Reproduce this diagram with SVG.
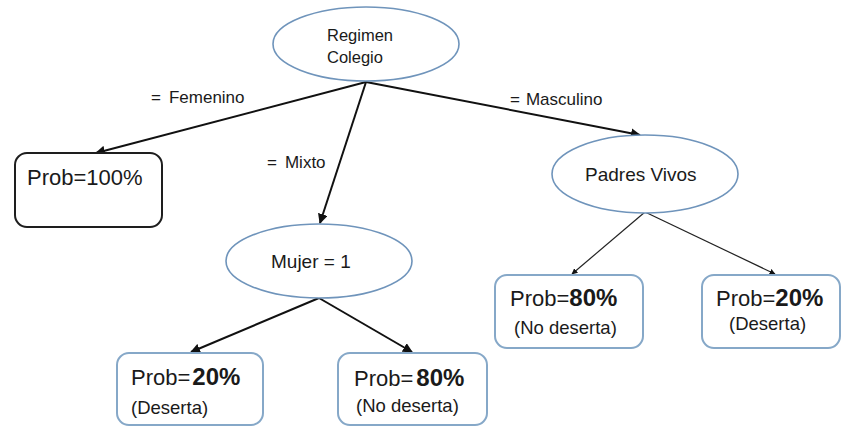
<svg xmlns="http://www.w3.org/2000/svg" width="842" height="427" viewBox="0 0 842 427">
  <style>
    .ell { fill: #ffffff; stroke: #6f94bb; stroke-width: 1.6; }
    .leaf { fill: #ffffff; stroke: #86a8c8; stroke-width: 2; }
    .leafdark { fill: #ffffff; stroke: #1e1e1e; stroke-width: 2; }
    .edge { stroke: #111111; stroke-width: 2; fill: none; marker-end: url(#arrow); }
    .edge-thin { stroke: #222222; stroke-width: 1.2; fill: none; marker-end: url(#arrow); }
    text { font-family: "Liberation Sans", Arial, sans-serif; fill: #1a1a1a; }
    .lbl { font-size: 17px; }
    .node { font-size: 16.5px; }
    .node-lg { font-size: 19px; }
    .prob { font-size: 22px; }
    .pct { font-size: 24px; font-weight: bold; }
    .sub { font-size: 18.5px; }
  </style>
  <defs>
    <marker id="arrow" viewBox="0 0 10 10" refX="9" refY="5" markerWidth="5" markerHeight="5" orient="auto" markerUnits="strokeWidth">
      <path d="M0,0 L10,5 L0,10 z" fill="#111111"/>
    </marker>
  </defs>

  <g id="connectors">
    <line class="edge" x1="366" y1="82" x2="96" y2="153"/>
    <line class="edge" x1="366" y1="82" x2="320" y2="223"/>
    <line class="edge" x1="366" y1="82" x2="640" y2="135"/>
    <line class="edge" x1="319" y1="298" x2="191" y2="352"/>
    <line class="edge" x1="319" y1="298" x2="412" y2="352"/>
    <line class="edge-thin" x1="645" y1="212" x2="572" y2="274"/>
    <line class="edge-thin" x1="645" y1="212" x2="775" y2="274"/>
    <text class="lbl" x="151" y="103">=<tspan dx="8">Femenino</tspan></text>
    <text class="lbl" x="267" y="168">=<tspan dx="8">Mixto</tspan></text>
    <text class="lbl" x="510" y="105">=<tspan dx="6">Masculino</tspan></text>
  </g>

  <g id="regimen-colegio">
    <ellipse class="ell" cx="366" cy="44" rx="93" ry="37"/>
    <text class="node" x="327" y="41">Regimen</text>
    <text class="node" x="327" y="63">Colegio</text>
  </g>

  <g id="femenino-leaf">
    <rect class="leafdark" x="15" y="153" width="147" height="74" rx="12"/>
    <text class="prob" x="27" y="185" font-size="21">Prob=100%</text>
  </g>

  <g id="mujer">
    <ellipse class="ell" cx="319" cy="261" rx="93" ry="37"/>
    <text class="node-lg" x="271" y="268">Mujer = 1</text>
  </g>

  <g id="padres-vivos">
    <ellipse class="ell" cx="645" cy="174" rx="93" ry="39"/>
    <text class="node-lg" x="585" y="181">Padres Vivos</text>
  </g>

  <g id="mujer-deserta">
    <rect class="leaf" x="117" y="353" width="146" height="72" rx="12"/>
    <text class="prob" x="131" y="385">Prob=<tspan class="pct" dx="2">20%</tspan></text>
    <text class="sub" x="131" y="414">(Deserta)</text>
  </g>

  <g id="mujer-no-deserta">
    <rect class="leaf" x="338" y="353" width="149" height="72" rx="12"/>
    <text class="prob" x="354" y="386">Prob=<tspan class="pct" dx="3">80%</tspan></text>
    <text class="sub" x="356" y="412">(No deserta)</text>
  </g>

  <g id="padres-no-deserta">
    <rect class="leaf" x="495" y="275" width="148" height="73" rx="12"/>
    <text class="prob" x="510" y="306">Prob=<tspan class="pct">80%</tspan></text>
    <text class="sub" x="514" y="334">(No deserta)</text>
  </g>

  <g id="padres-deserta">
    <rect class="leaf" x="702" y="275" width="138" height="73" rx="12"/>
    <text class="prob" x="716" y="306">Prob=<tspan class="pct">20%</tspan></text>
    <text class="sub" x="729" y="330">(Deserta)</text>
  </g>
</svg>
